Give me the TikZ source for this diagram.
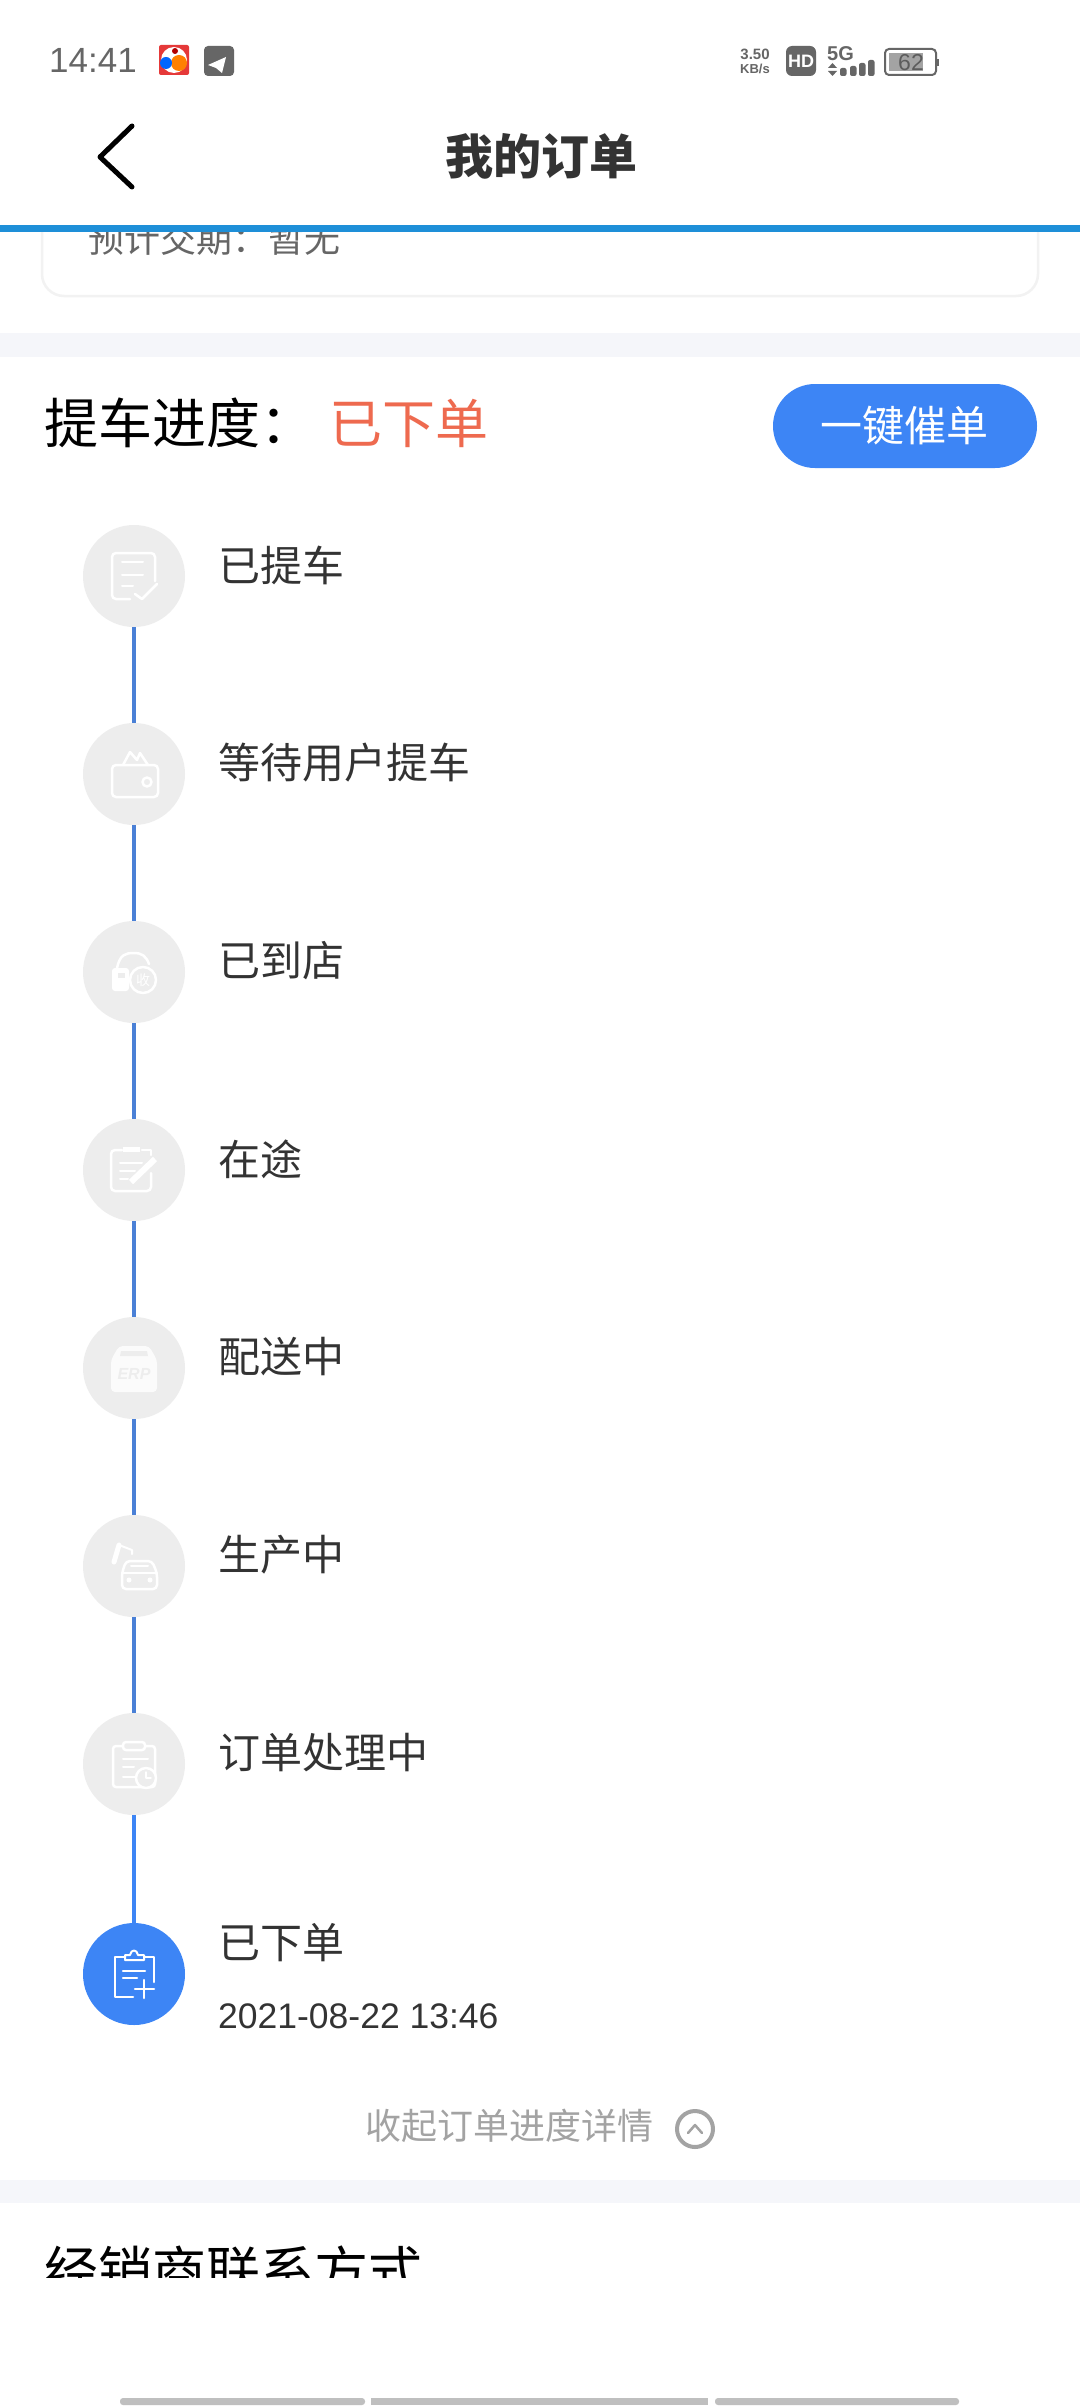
\documentclass[tikz,border=0pt]{standalone}
\usepackage{fontspec}
\setmainfont{Noto Sans CJK SC}
\newfontfamily\latinfont{Liberation Sans}
\usepackage{tikz}
\definecolor{barblue}{HTML}{1E8FD8}
\definecolor{btnblue}{HTML}{3D85F5}
\definecolor{lineblue}{HTML}{4A80D6}
\definecolor{bandgray}{HTML}{F5F6FA}
\definecolor{stepgray}{HTML}{EDEDED}
\definecolor{textdark}{HTML}{333333}
\definecolor{statusgray}{HTML}{666666}
\definecolor{softgray}{HTML}{A3A3A3}
\definecolor{orderred}{HTML}{EE6A4F}
\tikzset{
    stepnode/.style={circle,fill=stepgray,minimum size=102pt,inner sep=0pt},
    steptext/.style={anchor=west,inner sep=0pt,text=textdark,font=\fontsize{42}{42}\selectfont},
    timeline/.style={lineblue,line width=3.5pt},
    icon/.style={draw=white,line width=2.5pt,line cap=round,line join=round},
    plain/.style={inner sep=0pt,anchor=west},
    statustext/.style={inner sep=0pt,text=statusgray}
}
\begin{document}
\begin{tikzpicture}[x=1pt,y=-1pt]
    \useasboundingbox (0,0) rectangle (1080,2408);
    \fill[white] (0,0) rectangle (1080,2408);
    %card under the header
    \draw[draw=black!5,line width=2.5pt,rounded corners=22pt] (42,150) rectangle (1038,296);
    \node[plain,text=statusgray,font=\fontsize{36}{36}\selectfont] (delivery) at (88,239) {预计交期：暂无};
    \fill[white] (0,0) rectangle (1080,225);
    \fill[barblue] (0,225) rectangle (1080,232);
    %status bar
    \node[statustext,anchor=west,font=\latinfont\fontsize{35}{35}\selectfont] (clock) at (49,60) {14:41};
    \fill[red!75!white!90!black,rounded corners=2pt] (159,45) rectangle (189,75);
    \fill[white] (174,60) circle (13);
    \fill[orange] (179,63) circle (8);
    \fill[blue!60!cyan] (166,63) circle (6);
    \fill[red!70!black] (175,51) circle (3);
    \fill[statusgray,rounded corners=4pt] (204,46) rectangle (234,76);
    \fill[white] (226,57) -- (208,65) -- (216,68) -- (222,73) -- cycle;
    \node[statustext,font=\latinfont\bfseries\fontsize{15}{15}\selectfont] (speed) at (755,54) {3.50};
    \node[statustext,font=\latinfont\bfseries\fontsize{13}{13}\selectfont] (speedunit) at (755,69) {KB/s};
    \fill[statusgray,rounded corners=6pt] (786,46) rectangle (816,76);
    \node[text=white,inner sep=0pt,font=\latinfont\bfseries\fontsize{18}{18}\selectfont] (hd) at (801,61) {HD};
    \node[statustext,anchor=west,font=\latinfont\bfseries\fontsize{20}{20}\selectfont] (fiveg) at (827,54) {5G};
    \fill[statusgray] (828,68) -- (837,68) -- (832.5,63) -- cycle;
    \fill[statusgray] (828,71) -- (837,71) -- (832.5,76) -- cycle;
    \foreach \x/\y in {840/68,850/66,859/63,868/60}
        \fill[statusgray,rounded corners=2pt] (\x,\y) rectangle (\x+6.5,76);
    \draw[statusgray,line width=2pt,rounded corners=4pt] (885,49) rectangle (936,75);
    \fill[statusgray] (937,59) rectangle (939,66);
    \fill[softgray] (889,53) rectangle (923,71);
    \node[statustext,text=textdark!80,font=\latinfont\fontsize{23}{23}\selectfont] (battery) at (911,63) {62};
    %header
    \draw[black,line width=5pt,line cap=round,line join=round] (132,126) -- (100,157) -- (132,187);
    \node[inner sep=0pt,text=textdark,font=\bfseries\fontsize{48}{48}\selectfont] (title) at (541,156) {我的订单};
    %bands
    \fill[bandgray] (0,333) rectangle (1080,357);
    \fill[bandgray] (0,2180) rectangle (1080,2203);
    %progress head
    \node[plain,text=black,font=\fontsize{54}{54}\selectfont] (progress) at (44,423) {提车进度：};
    \node[plain,text=orderred,font=\fontsize{53}{53}\selectfont] (status) at (329,423) {已下单};
    \fill[btnblue,rounded corners=42pt] (773,384) rectangle (1037,468);
    \node[inner sep=0pt,text=white,font=\fontsize{42}{42}\selectfont] (urge) at (904,426) {一键催单};
    %steps
    \foreach \name/\y/\txt in {picked/576/已提车,waiting/774/等待用户提车,arrived/972/已到店,onway/1170/在途,
                               delivering/1368/配送中,making/1566/生产中,handling/1764/订单处理中}{
        \node[stepnode] (\name) at (134,\y) {};
        \node[steptext] (\name text) at (218,\y-11) {\txt};
    }
    \node[stepnode,fill=btnblue] (placed) at (134,1974) {};
    \node[steptext] (placed text) at (218,1943) {已下单};
    \node[plain,text=textdark,font=\latinfont\fontsize{35.5}{35.5}\selectfont] (placed time) at (218,2016) {2021-08-22 13:46};
    \foreach \a/\b in {picked/waiting,waiting/arrived,arrived/onway,onway/delivering,delivering/making,making/handling}
        \draw[timeline] (\a) -- (\b);
    \draw[timeline,btnblue] (handling) -- (placed);
    %step icons
    \begin{scope}[shift={(picked)}]
        \draw[icon,rounded corners=4pt] (21,5) -- (21,-23) -- (-22,-23) -- (-22,23) -- (-4,23);
        \draw[icon] (1,18) -- (8,23) -- (23,8);
        \draw[icon,line width=2pt] (-12,-14) -- (9,-14) (-12,-1) -- (9,-1) (-12,10) -- (-1,10);
    \end{scope}
    \begin{scope}[shift={(waiting)}]
        \draw[icon,rounded corners=4pt] (-22,-9) rectangle (24,23);
        \draw[icon] (-11,-9) -- (-4,-22) -- (3,-14) -- (6,-21) -- (14,-9);
        \draw[icon] (13,8) circle (4.5);
    \end{scope}
    \begin{scope}[shift={(arrived)}]
        \draw[icon] (-17,-4) .. controls (-14,-18) and (-8,-19) .. (0,-19) .. controls (8,-19) and (12,-16) .. (15,-8);
        \fill[white,rounded corners=3pt] (-22,-4) rectangle (-5,19);
        \fill[stepgray] (-16,1) rectangle (-9,6);
        \draw[icon] (9,8) circle (13);
        \node[inner sep=0pt,text=white,font=\fontsize{14}{14}\selectfont] (arrived mark) at (9,8) {收};
    \end{scope}
    \begin{scope}[shift={(onway)}]
        \draw[icon,rounded corners=4pt] (-12,-20) -- (-23,-20) -- (-23,21) -- (17,21) -- (17,3);
        \draw[icon] (8,-20) -- (17,-20) -- (17,-15);
        \draw[white,line width=5pt] (-11,-21) -- (6,-21);
        \draw[icon,line width=2pt] (-14,-7) -- (8,-7) (-14,1) -- (1,1) (-14,9) -- (-6,9);
        \draw[white,line width=6pt] (-3,12) -- (21,-11);
    \end{scope}
    \begin{scope}[shift={(delivering)}]
        \fill[white,opacity=.8,rounded corners=4pt] (-15,-22) -- (15,-22) -- (23,-8) -- (23,24) -- (-23,24) -- (-23,-8) -- cycle;
        \fill[stepgray] (-13,-17) -- (13,-17) -- (14,-12) -- (-14,-12) -- cycle;
        \node[inner sep=0pt,text=stepgray,font=\latinfont\bfseries\itshape\fontsize{16}{16}\selectfont] (delivering mark) at (0,6) {ERP};
    \end{scope}
    \begin{scope}[shift={(making)}]
        \draw[white,line width=5pt,line cap=round] (-20,-4) -- (-15,-21);
        \draw[icon,line width=2pt] (-15,-21) -- (-2,-16) -- (-2,-12);
        \draw[icon,rounded corners=4pt] (-12,7) -- (-8,-5) -- (18,-5) -- (23,7) -- (23,23) -- (-12,23) -- cycle;
        \draw[icon,line width=2pt] (-12,7) -- (23,7) (-3,0) -- (14,0);
        \fill[white] (-5,14) circle (2.5) (16,14) circle (2.5);
    \end{scope}
    \begin{scope}[shift={(handling)}]
        \draw[icon,rounded corners=3pt] (-21,-18) rectangle (21,23);
        \draw[icon,fill=stepgray,rounded corners=3pt] (-11,-22) rectangle (11,-14);
        \draw[icon,line width=2pt] (-11,-5) -- (14,-5) (-11,3) -- (0,3) (-11,13) -- (4,13);
        \draw[icon,fill=stepgray] (12,14) circle (10);
        \draw[icon,line width=1.5pt] (12,8) -- (12,14) -- (17,14);
    \end{scope}
    \begin{scope}[shift={(placed)}]
        \draw[icon] (20,8) -- (20,-17) -- (10,-17) (-9,-17) -- (-19,-17) -- (-19,23) -- (-1,23);
        \draw[icon,line width=2pt] (-9,-14) -- (-9,-19) -- (-4,-19) .. controls (-3,-25) and (3,-25) .. (4,-19) -- (10,-19) -- (10,-14) -- cycle;
        \draw[icon] (-11,-3) -- (11,-3) (-11,4) -- (3,4);
        \draw[icon] (1,15) -- (20,15) (10,6) -- (10,24);
    \end{scope}
    %collapse row
    \node[plain,text=softgray,font=\fontsize{36}{36}\selectfont] (collapse) at (365,2126) {收起订单进度详情};
    \draw[softgray,line width=4pt] (695,2129) circle (18);
    \draw[softgray,line width=2.5pt,line cap=round,line join=round] (688,2133) -- (695,2125) -- (702,2133);
    %dealer head, cut by the page end
    \node[plain,text=black,font=\fontsize{54}{54}\selectfont] (dealer) at (44,2271) {经销商联系方式};
    \fill[white] (0,2278) rectangle (1080,2408);
    %page bars
    \fill[black!25,rounded corners=3pt] (120,2398) rectangle (365,2405);
    \fill[black!25] (371,2398) rectangle (708,2405);
    \fill[black!25,rounded corners=3pt] (715,2398) rectangle (959,2405);
\end{tikzpicture}
\end{document}
